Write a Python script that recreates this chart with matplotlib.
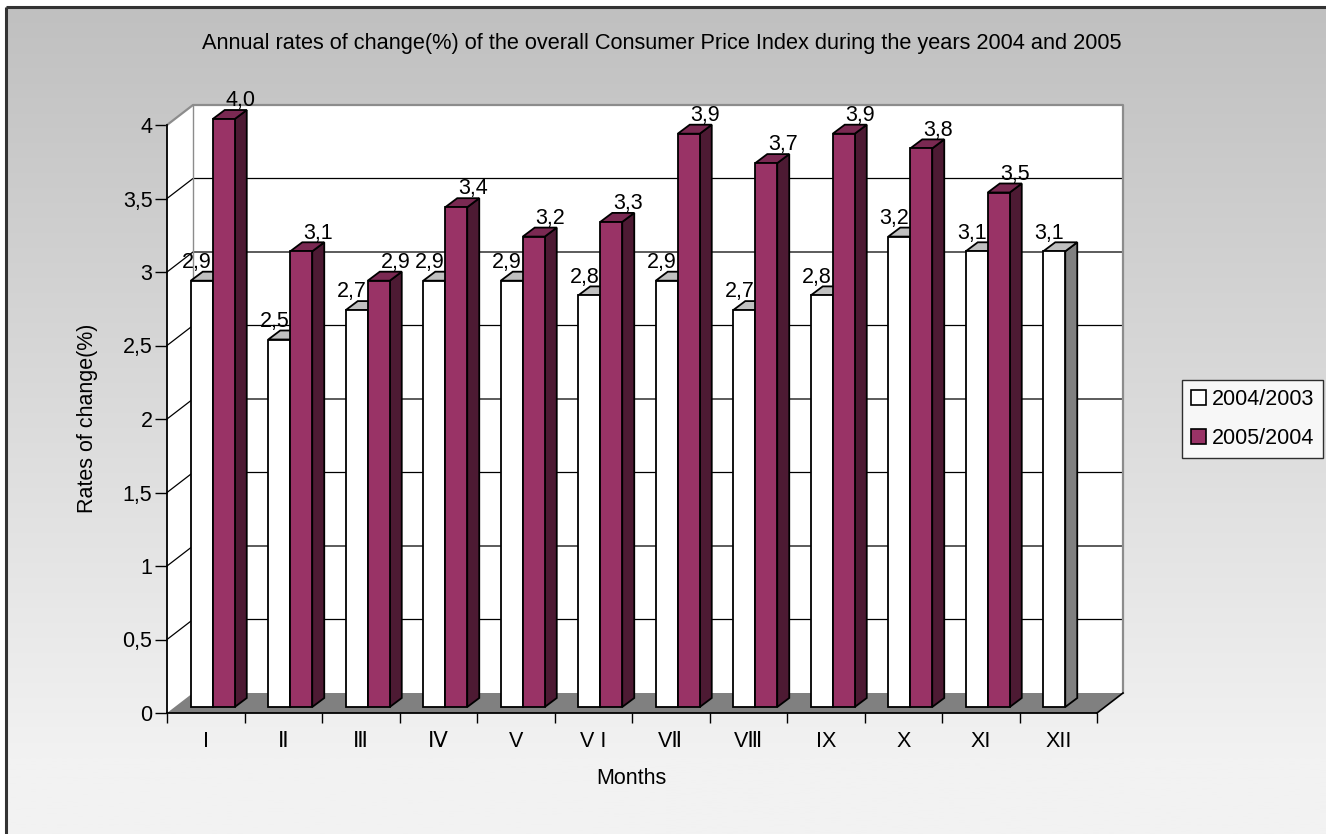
import numpy as np
import matplotlib.pyplot as plt
from matplotlib.patches import Polygon, Rectangle, Patch

plt.rcParams['font.family'] = ['Liberation Sans', 'DejaVu Sans']

# data
months = ['I', 'Ⅱ', 'Ⅲ', 'Ⅳ', 'V', 'V I', 'VⅡ', 'VⅢ', 'IX', 'X', 'XI', 'XII']
rate_2004 = [2.9, 2.5, 2.7, 2.9, 2.9, 2.8, 2.9, 2.7, 2.8, 3.2, 3.1, 3.1]
rate_2005 = [4.0, 3.1, 2.9, 3.4, 3.2, 3.3, 3.9, 3.7, 3.9, 3.8, 3.5, np.nan]
series_names = ['2004/2003', '2005/2004']
yticks = [0, 0.5, 1, 1.5, 2, 2.5, 3, 3.5, 4]
ytick_labels = ['0', '0,5', '1', '1,5', '2', '2,5', '3', '3,5', '4']

FS = 15.5
W, H = 1326, 834
fig = plt.figure(figsize=(W / 100, H / 100), dpi=100)
fig.patch.set_facecolor('white')

# background gradient + frame
bg = fig.add_axes([0, 0, 1, 1])
bg.set_xlim(0, W)
bg.set_ylim(H, 0)
bg.axis('off')
grad = np.linspace(0, 1, 300).reshape(-1, 1)
grad = np.clip(grad * 1.1, 0, 1)
c0, c1 = 0xc0 / 255, 0xf2 / 255
img = c0 + (c1 - c0) * grad
bg.imshow(np.dstack([img, img, img]), extent=[6, W, H, 7], aspect='auto', zorder=0)
bg.plot([5.5, 5.5], [H, 6.5], color='#333333', lw=2.2, solid_capstyle='butt')
bg.plot([5.5, W], [6.5, 6.5], color='#333333', lw=2.2, solid_capstyle='butt')

# main axes (front plane)
x0px, y0px, wpx, hpx = 167, 713, 930, 588
ax = fig.add_axes([x0px / W, (H - y0px) / H, wpx / W, hpx / H])
ax.set_xlim(0, 12)
ax.set_ylim(0, 4)
ax.patch.set_alpha(0)
sx = 12 / wpx
sy = 4 / hpx

# depth offsets (px -> data)
wx, wy = 26 * sx, 20 * sy          # wall depth
bx, by = 7 * sx, 6 * sy            # bar front offset
dx, dy = 12 * sx, 9 * sy           # bar depth
bw = 22 / 77.5                     # bar width

# side wall and back wall
ax.add_patch(Polygon([(0, 0), (0, 4), (wx, 4 + wy), (wx, wy)], closed=True,
                     facecolor='white', edgecolor='none', clip_on=False, zorder=1))
ax.add_patch(Rectangle((wx, wy), 12, 4, facecolor='white', edgecolor='none',
                       clip_on=False, zorder=1))
for v in yticks[1:-1]:
    ax.plot([0, wx, 12 + wx], [v, v + wy, v + wy], color='black', lw=0.9,
            clip_on=False, zorder=2)
ax.plot([0, wx, 12 + wx, 12 + wx], [4, 4 + wy, 4 + wy, wy], color='#8c8c8c', lw=1.6,
        clip_on=False, zorder=2)
ax.plot([wx, wx], [wy, 4 + wy], color='#8c8c8c', lw=1.0, clip_on=False, zorder=2)

# floor
ax.add_patch(Polygon([(0, 0), (12, 0), (12 + wx, wy), (wx, wy)], closed=True,
                     facecolor='#808080', edgecolor='none', clip_on=False, zorder=3))
ax.plot([12, 12 + wx], [0, wy], color='black', lw=1.2, clip_on=False, zorder=3)


def bar3d(xl, v, front, top, side):
    xr = xl + bw
    ax.add_patch(Polygon([(xr, by), (xr, v + by), (xr + dx, v + by + dy), (xr + dx, by + dy)],
                         closed=True, facecolor=side, edgecolor='black', lw=1.3,
                         clip_on=False, zorder=5))
    ax.add_patch(Polygon([(xl, v + by), (xr, v + by), (xr + dx, v + by + dy), (xl + dx, v + by + dy)],
                         closed=True, facecolor=top, edgecolor='black', lw=1.3,
                         clip_on=False, zorder=5))
    ax.add_patch(Rectangle((xl, by), bw, v, facecolor=front, edgecolor='black', lw=1.3,
                           clip_on=False, zorder=5))


for i in range(len(months)):
    v1 = rate_2004[i]
    xl1 = i + 0.5 - bw + bx
    bar3d(xl1, v1, 'white', '#c0c0c0', '#808080')
    ax.annotate(f'{v1:.1f}'.replace('.', ','), xy=(i + 0.5 - bw / 2, v1), xytext=(1.5, 13.5),
                textcoords='offset points', ha='center', va='baseline', fontsize=FS,
                zorder=8, annotation_clip=False)
    v2 = rate_2005[i]
    if not np.isnan(v2):
        xl2 = i + 0.5 + bx
        bar3d(xl2, v2, '#993366', '#7a2952', '#4d1a33')
        ax.annotate(f'{v2:.1f}'.replace('.', ','), xy=(i + 0.5 + bw / 2, v2), xytext=(17, 13.5),
                    textcoords='offset points', ha='center', va='baseline', fontsize=FS,
                    zorder=8, annotation_clip=False)

# axes, ticks
for s in ['top', 'right']:
    ax.spines[s].set_visible(False)
for s in ['left', 'bottom']:
    ax.spines[s].set_color('black')
    ax.spines[s].set_linewidth(1.3)
    ax.spines[s].set_zorder(6)
ax.set_yticks(yticks)
ax.set_yticklabels(ytick_labels, fontsize=FS)
ax.tick_params(axis='y', length=8.5, width=1.0, pad=2)
ax.set_xticks(range(13))
ax.set_xticklabels([])
ax.tick_params(axis='x', which='major', length=7.5, width=1.0)
ax.set_xticks(np.arange(12) + 0.5, minor=True)
ax.set_xticklabels(months, minor=True, fontsize=FS)
ax.tick_params(axis='x', which='minor', length=0, pad=13)

fig.text(662 / W, 1 - 43 / H,
         'Annual rates of change(%) of the overall Consumer Price Index during the years 2004 and 2005',
         ha='center', va='center', fontsize=15.7)
fig.text(88 / W, 1 - 418 / H, 'Rates of change(%)', rotation=90, ha='center', va='center', fontsize=FS)
fig.text(631 / W, 1 - 779 / H, 'Months', ha='center', va='center', fontsize=FS)

handles = [Patch(facecolor='white', edgecolor='black', lw=1.2),
           Patch(facecolor='#993366', edgecolor='black', lw=1.2)]
leg = fig.legend(handles, series_names, loc='upper left',
                 bbox_to_anchor=(1182 / W, 1 - 380 / H), fontsize=FS,
                 frameon=True, fancybox=False, borderpad=0.4, labelspacing=0.85,
                 handlelength=0.7, handleheight=0.7, handletextpad=0.3,
                 borderaxespad=0)
leg.get_frame().set_edgecolor('black')
leg.get_frame().set_linewidth(1.0)
leg.get_frame().set_facecolor('white')

fig.savefig('out.png', dpi=100)
